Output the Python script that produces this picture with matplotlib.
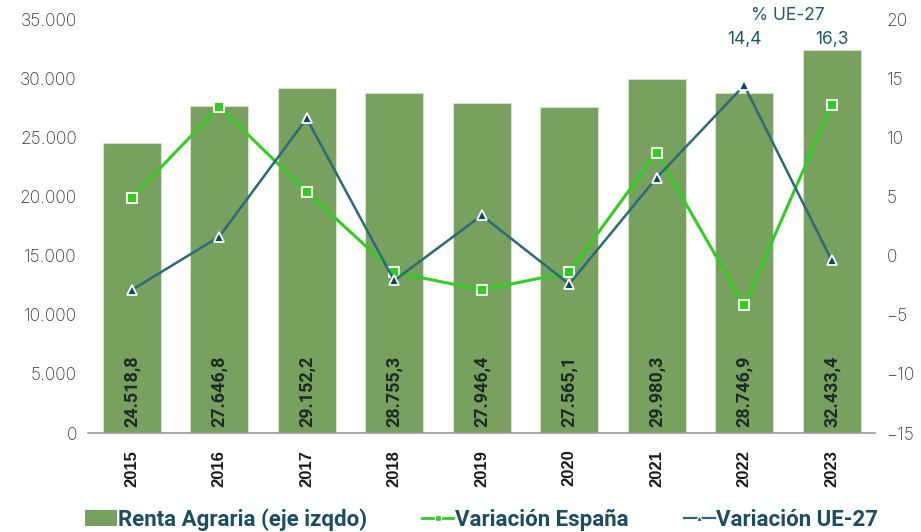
import matplotlib.pyplot as plt
import numpy as np
from matplotlib.ticker import FuncFormatter
from matplotlib.patches import Patch
from matplotlib.lines import Line2D

# Datos
years = ['2015', '2016', '2017', '2018', '2019', '2020', '2021', '2022', '2023']
renta = [24518.8, 27646.8, 29152.2, 28755.3, 27946.4, 27565.1, 29980.3, 28746.9, 32433.4]
var_espana = [4.9, 12.6, 5.4, -1.4, -2.9, -1.4, 8.7, -4.2, 12.7]
var_ue27 = [-2.9, 1.6, 11.6, -2.1, 3.4, -2.4, 6.6, 14.4, -0.4]
top_labels = ['14,4', '16,3']

# Colores
c_bar = '#78a05e'
c_esp = '#33cc22'
c_ue = '#2b6a78'
c_ue_mk = '#0b4a5c'
c_txt = '#1f5a6a'

fig = plt.figure(figsize=(9.21, 5.32), dpi=100)
ax = fig.add_axes([0.0955, 0.186, 0.855, 0.778])
ax2 = ax.twinx()

x = np.arange(len(years))
ax.bar(x, renta, width=0.66, color=c_bar, edgecolor='#d5e0cc', linewidth=0.8, zorder=1)

def fmt_num(v):
    s = f'{v:,.1f}'
    return s.replace(',', 'X').replace('.', ',').replace('X', '.')

for xi, v in zip(x, renta):
    ax.text(xi, 550, fmt_num(v), rotation=90, ha='center', va='bottom',
            fontsize=13, fontweight='bold', color='#1e2b26', family='Roboto')

ax.set_ylim(0, 35000)
ax.set_yticks(range(0, 35001, 5000))
ax.yaxis.set_major_formatter(FuncFormatter(lambda v, p: f'{int(v):,}'.replace(',', '.')))
ax.set_xlim(-0.5, len(years) - 0.5)
ax.set_xticks(x)
ax.set_xticklabels(years, rotation=90, fontweight='bold', fontsize=12,
                   family='Liberation Sans', color='#1a1a1a')

ax2.plot(x, var_espana, color=c_esp, lw=2.2, marker='s', ms=7,
         mfc=c_esp, mec='white', mew=1.3, zorder=3)
ax2.plot(x, var_ue27, color=c_ue, lw=1.8, marker='^', ms=7.5,
         mfc=c_ue_mk, mec='white', mew=1.3, zorder=4)
ax2.set_ylim(-15, 20)
ax2.set_yticks(range(-15, 21, 5))

for a in (ax, ax2):
    for s in a.spines.values():
        s.set_visible(False)
    a.tick_params(axis='y', length=0, labelsize=12.5, labelcolor='#333333', pad=8)
    a.tick_params(axis='x', length=0, pad=12)
ax.spines['bottom'].set_visible(True)
ax.spines['bottom'].set_color('#999999')
ax.spines['bottom'].set_linewidth(1.2)
ax.set_zorder(ax2.get_zorder() - 1)
ax2.patch.set_visible(False)

for lab in ax.get_yticklabels() + ax2.get_yticklabels():
    lab.set_family('Inter')
    lab.set_fontweight('light')

# Anotaciones superiores
ax2.text(7.5, 20.3, '% UE-27', ha='center', va='center', fontsize=12.5,
         color=c_txt, family='Inter', clip_on=False)
ax2.text(7, 18.3, top_labels[0], ha='center', va='center', fontsize=12.5,
         color=c_txt, family='Inter', clip_on=False)
ax2.text(8, 18.3, top_labels[1], ha='center', va='center', fontsize=12.5,
         color=c_txt, family='Inter', clip_on=False)

# Leyenda
handles = [
    Patch(facecolor=c_bar, edgecolor='none'),
    Line2D([], [], color=c_esp, lw=2, marker='s', ms=5, mfc=c_esp, mec='white'),
    Line2D([], [], color=c_ue, lw=1.6, marker='^', ms=5, mfc=c_ue_mk, mec='white'),
]
labels = ['Renta Agraria (eje izqdo)', 'Variación España', 'Variación UE-27']
leg = fig.legend(handles, labels, loc='lower center', bbox_to_anchor=(0.523, -0.035),
                 ncol=3, frameon=False, handlelength=1.4, handletextpad=0.05,
                 columnspacing=2.5, prop={'family': 'Roboto', 'weight': 'bold', 'size': 16})
for t in leg.get_texts():
    t.set_color('#1b4e5e')

fig.savefig('out.png', dpi=100)
